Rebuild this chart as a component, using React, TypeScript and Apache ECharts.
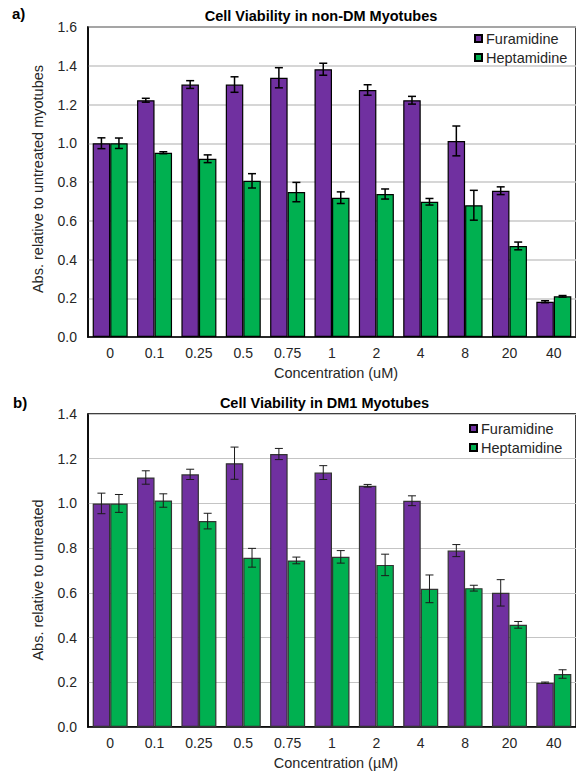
import React, { useEffect, useRef } from 'react';
import * as echarts from 'echarts';

const categories = ['0', '0.1', '0.25', '0.5', '0.75', '1', '2', '4', '8', '20', '40'];
const seriesNames = ['Furamidine', 'Heptamidine'];

// Panel a) non-DM myotubes
const furA = [1.0, 1.222, 1.303, 1.303, 1.338, 1.382, 1.275, 1.222, 1.012, 0.755, 0.182];
const furAErr = [0.028, 0.01, 0.02, 0.04, 0.052, 0.031, 0.027, 0.02, 0.077, 0.02, 0.005];
const hepA = [1.0, 0.951, 0.92, 0.806, 0.748, 0.719, 0.738, 0.698, 0.68, 0.47, 0.21];
const hepAErr = [0.027, 0.005, 0.02, 0.037, 0.05, 0.03, 0.026, 0.017, 0.077, 0.02, 0.004];

// Panel b) DM1 myotubes
const furB = [1.0, 1.116, 1.13, 1.18, 1.221, 1.138, 1.079, 1.012, 0.789, 0.6, 0.198];
const furBErr = [0.046, 0.03, 0.023, 0.072, 0.025, 0.031, 0.006, 0.022, 0.027, 0.059, 0.003];
const hepB = [1.0, 1.013, 0.921, 0.757, 0.745, 0.761, 0.725, 0.618, 0.621, 0.457, 0.237];
const hepBErr = [0.04, 0.03, 0.035, 0.042, 0.015, 0.028, 0.048, 0.062, 0.013, 0.015, 0.019];

const PURPLE = '#7030A0';
const GREEN = '#00B050';
const FONT = '"Liberation Sans", Arial, sans-serif';
const TEXT = '#262626';
const BAR_W = 17.5;

function barSeries(name: string, data: number[], idx: number, color: string, border: string) {
  return {
    name,
    type: 'bar',
    xAxisIndex: idx,
    yAxisIndex: idx,
    data,
    barWidth: BAR_W,
    barGap: '0%',
    itemStyle: { color, borderColor: border, borderWidth: 1.2 },
  };
}

function errSeries(vals: number[], errs: number[], idx: number, offset: number, color: string, lw: number) {
  return {
    type: 'custom',
    name: 'err',
    xAxisIndex: idx,
    yAxisIndex: idx,
    z: 10,
    silent: true,
    data: vals.map((v, i) => [i, v - errs[i], v + errs[i]]),
    encode: { x: 0, y: [1, 2] },
    renderItem: (params: any, api: any) => {
      const i = api.value(0);
      const lo = api.coord([i, api.value(1)]);
      const hi = api.coord([i, api.value(2)]);
      const x = lo[0] + offset;
      const cap = 4;
      const style = { stroke: color, lineWidth: lw };
      return {
        type: 'group',
        children: [
          { type: 'line', shape: { x1: x, y1: hi[1], x2: x, y2: lo[1] }, style },
          { type: 'line', shape: { x1: x - cap, y1: hi[1], x2: x + cap, y2: hi[1] }, style },
          { type: 'line', shape: { x1: x - cap, y1: lo[1], x2: x + cap, y2: lo[1] }, style },
        ],
      };
    },
  };
}

function xAxis(idx: number) {
  return {
    type: 'category',
    gridIndex: idx,
    data: categories,
    axisTick: { show: false },
    axisLine: { show: true, lineStyle: { color: '#000', width: 1.5 } },
    axisLabel: { color: TEXT, fontSize: 14, fontFamily: FONT, margin: 9 },
  };
}

function yAxis(idx: number, max: number, gridColor: string, gridWidth: number) {
  return {
    type: 'value',
    gridIndex: idx,
    min: 0,
    max,
    interval: 0.2,
    axisTick: { show: false },
    axisLine: { show: true, lineStyle: { color: '#000', width: 1.5 } },
    axisLabel: {
      color: TEXT,
      fontSize: 14,
      fontFamily: FONT,
      margin: 11,
      formatter: (v: number) => v.toFixed(1),
    },
    splitLine: { show: true, lineStyle: { color: gridColor, width: gridWidth } },
  };
}

function legend(left: number, top: number) {
  return {
    data: seriesNames,
    orient: 'vertical',
    left,
    top,
    padding: 0,
    itemGap: 0,
    itemWidth: 7,
    itemHeight: 7,
    icon: 'rect',
    selectedMode: false,
    textStyle: { color: TEXT, fontSize: 14.5, fontFamily: FONT, lineHeight: 19, padding: [0, 0, 0, -1] },
  };
}

export default function App() {
  const ref = useRef<HTMLDivElement>(null);
  useEffect(() => {
    if (!ref.current) return;
    const chart = echarts.init(ref.current, undefined, { renderer: 'svg' });
    const option: any = {
      animation: false,
      backgroundColor: '#fff',
      grid: [
        { left: 88, top: 27, width: 494, height: 310, show: true, borderColor: '#000', borderWidth: 1.5, backgroundColor: 'transparent' },
        { left: 88, top: 414, width: 494, height: 313, show: true, borderColor: '#000', borderWidth: 1.5, backgroundColor: 'transparent' },
      ],
      xAxis: [xAxis(0), xAxis(1)],
      yAxis: [yAxis(0, 1.6, '#c8c8c8', 1.5), yAxis(1, 1.4, '#c4c4c4', 1)],
      legend: [legend(474, 29), legend(469, 419)],
      series: [
        barSeries(seriesNames[0], furA, 0, PURPLE, '#000'),
        barSeries(seriesNames[1], hepA, 0, GREEN, '#000'),
        barSeries(seriesNames[0], furB, 1, PURPLE, '#333'),
        barSeries(seriesNames[1], hepB, 1, GREEN, '#333'),
        errSeries(furA, furAErr, 0, -BAR_W / 2, '#000', 1.5),
        errSeries(hepA, hepAErr, 0, BAR_W / 2, '#000', 1.5),
        errSeries(furB, furBErr, 1, -BAR_W / 2, '#1a1a1a', 1),
        errSeries(hepB, hepBErr, 1, BAR_W / 2, '#1a1a1a', 1),
      ],
      graphic: [
        { type: 'text', left: 12, top: 6, style: { text: 'a)', font: `bold 15px ${FONT}`, fill: '#000' } },
        { type: 'text', left: 13, top: 395, style: { text: 'b)', font: `bold 15px ${FONT}`, fill: '#000' } },
        { type: 'text', x: 321, y: 16, style: { text: 'Cell Viability in non-DM Myotubes', font: `bold 14.5px ${FONT}`, fill: '#000', align: 'center', verticalAlign: 'middle' } },
        { type: 'text', x: 324.5, y: 403, style: { text: 'Cell Viability in DM1 Myotubes', font: `bold 14.5px ${FONT}`, fill: '#000', align: 'center', verticalAlign: 'middle' } },
        { type: 'text', x: 38, y: 179, rotation: Math.PI / 2, style: { text: 'Abs. relative to untreated myotubes', font: `14.5px ${FONT}`, fill: TEXT, align: 'center', verticalAlign: 'middle' } },
        { type: 'text', x: 38, y: 580, rotation: Math.PI / 2, style: { text: 'Abs. relative to untreated', font: `14.5px ${FONT}`, fill: TEXT, align: 'center', verticalAlign: 'middle' } },
        { type: 'text', x: 336, y: 373, style: { text: 'Concentration (uM)', font: `14.5px ${FONT}`, fill: TEXT, align: 'center', verticalAlign: 'middle' } },
        { type: 'text', x: 336, y: 763, style: { text: 'Concentration (µM)', font: `14.5px ${FONT}`, fill: TEXT, align: 'center', verticalAlign: 'middle' } },
      ],
    };
    chart.setOption(option);
    return () => chart.dispose();
  }, []);
  return <div ref={ref} style={{ position: 'absolute', left: 0, top: 0, width: 576, height: 772 }} />;
}
